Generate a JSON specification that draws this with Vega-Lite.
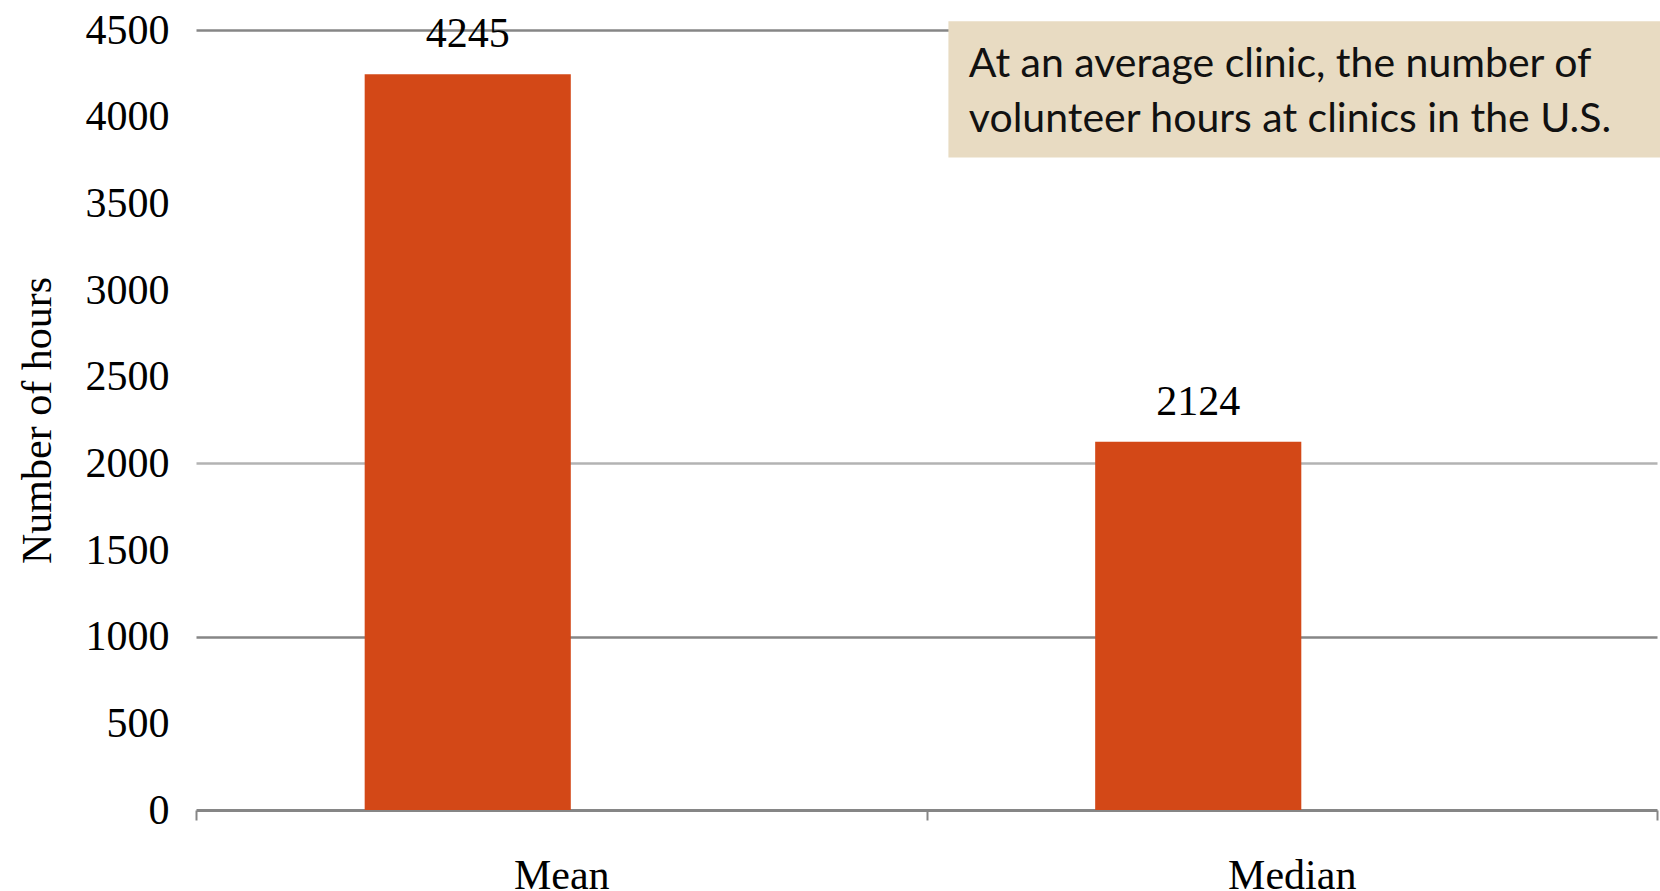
{
  "$schema": "https://vega.github.io/schema/vega-lite/v6.json",
  "width": 1461,
  "height": 780,
  "autosize": {"type": "none"},
  "padding": {"left": 196, "top": 30, "right": 3, "bottom": 81},
  "background": "white",
  "config": {"view": {"stroke": null}},
  "datasets": {
    "hours": [
      {"stat": "Mean", "series": "A", "hours": 4245},
      {"stat": "Median", "series": "A", "hours": 2124}
    ],
    "note": [
      {"text": "At an average clinic, the number of\nvolunteer hours at clinics in the U.S."}
    ]
  },
  "layer": [
    {
      "data": {"name": "hours"},
      "encoding": {
        "x": {
          "field": "stat", "type": "nominal",
          "scale": {"paddingInner": 0, "paddingOuter": 0},
          "axis": {
            "title": null, "labelAngle": 0, "labelFont": "Liberation Serif", "labelFontSize": 42,
            "labelColor": "#000000", "labelBaseline": "top", "labelPadding": 35,
            "domainColor": "#868686", "domainWidth": 3,
            "tickBand": "extent", "tickColor": "#868686", "tickWidth": 2, "tickSize": 10,
            "grid": false
          }
        },
        "xOffset": {
          "field": "series", "type": "nominal",
          "scale": {"domain": ["A", "B"], "paddingInner": 0, "paddingOuter": 0.772, "align": 0.53}
        },
        "y": {
          "field": "hours", "type": "quantitative",
          "scale": {"domain": [0, 4500], "nice": false},
          "axis": {
            "title": "Number of hours", "titleFont": "Liberation Serif", "titleFontSize": 42,
            "titleFontWeight": "normal", "titleColor": "#000000", "titlePadding": 26,
            "labelFont": "Liberation Serif", "labelFontSize": 42, "labelColor": "#000000",
            "labelPadding": 27, "ticks": false, "domain": false, "format": "d",
            "values": [0, 500, 1000, 1500, 2000, 2500, 3000, 3500, 4000, 4500],
            "gridWidth": 2.5,
            "gridColor": {"condition": {"test": "datum.value === 2000", "value": "#B3B3B3"}, "value": "#868686"},
            "gridOpacity": {"condition": {"test": "datum.value === 1000 || datum.value === 2000 || datum.value === 4500", "value": 1}, "value": 0}
          }
        }
      },
      "layer": [
        {"mark": {"type": "bar", "color": "#D34817"}},
        {
          "mark": {"type": "text", "baseline": "bottom", "dy": -18, "font": "Liberation Serif", "fontSize": 42, "color": "#000000"},
          "encoding": {"text": {"field": "hours", "type": "quantitative", "format": "d"}}
        }
      ]
    },
    {
      "data": {"name": "note"},
      "mark": {"type": "rect", "color": "#E8DBC2"},
      "encoding": {
        "x": {"datum": 0.515, "type": "quantitative", "scale": {"domain": [0, 1], "nice": false, "zero": false}, "axis": null},
        "x2": {"datum": 1.003},
        "y": {"datum": 4550, "type": "quantitative"},
        "y2": {"datum": 3765}
      }
    },
    {
      "data": {"name": "note"},
      "mark": {"type": "text", "align": "left", "baseline": "alphabetic", "lineBreak": "\n", "lineHeight": 55, "font": "Lato", "fontSize": 41, "letterSpacing": 1.4, "color": "#111111"},
      "encoding": {
        "x": {"datum": 0.529, "type": "quantitative", "scale": {"domain": [0, 1], "nice": false, "zero": false}, "axis": null},
        "y": {"datum": 4227, "type": "quantitative"},
        "text": {"field": "text"}
      }
    }
  ],
  "resolve": {"scale": {"x": "independent"}}
}
